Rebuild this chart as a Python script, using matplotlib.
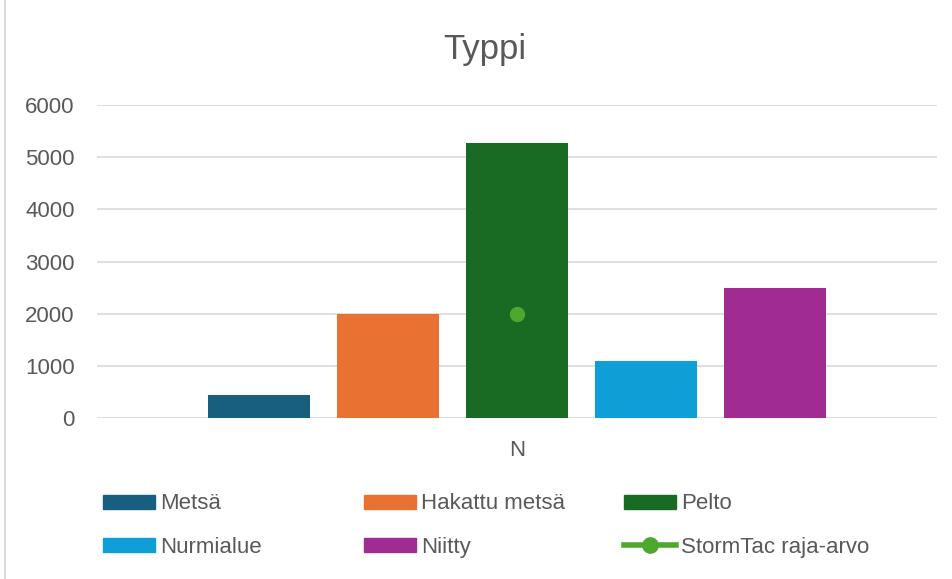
import matplotlib
matplotlib.use("Agg")
import matplotlib.pyplot as plt
from matplotlib.lines import Line2D
from matplotlib.patches import Patch

# Data
categories = ["Metsä", "Hakattu metsä", "Pelto", "Nurmialue", "Niitty"]
values = [440, 2000, 5280, 1100, 2490]
colors = ["#175E7F", "#E97132", "#196B24", "#0F9ED5", "#A02B93"]
limit_label = "StormTac raja-arvo"
limit_value = 2000
group_label = "N"
yticks = [0, 1000, 2000, 3000, 4000, 5000, 6000]

plt.rcParams["font.family"] = ["Liberation Sans", "DejaVu Sans"]
txt = "#595959"
green = "#4EA72E"

W, H = 952, 579
fig = plt.figure(figsize=(W / 100, H / 100), dpi=100)
ax = fig.add_axes([97 / W, 1 - 418 / H, (937 - 97) / W, (418 - 105) / H])

# x in units of one bar slot (129 px)
slots = 840 / 129.0
ax.set_xlim(-slots / 2, slots / 2)
xs = [i - 2 for i in range(len(values))]
for x, v, c in zip(xs, values, colors):
    ax.bar(x, v, width=102 / 129, color=c, zorder=3)

ax.plot([0], [limit_value], marker="o", color=green, markersize=10,
        linestyle="none", zorder=4)

ax.set_ylim(0, 6000)
ax.set_yticks(yticks)
ax.set_yticklabels([str(t) for t in yticks], fontsize=16, color=txt)
ax.tick_params(axis="y", length=0, pad=16)
ax.set_xticks([0])
ax.set_xticklabels([group_label], fontsize=16, color=txt)
ax.tick_params(axis="x", length=0, pad=16)
ax.grid(axis="y", color="#D9D9D9", linewidth=1.2, zorder=0)
for s in ax.spines.values():
    s.set_visible(False)

fig.text(485 / W, 1 - 50 / H, "Typpi", ha="center", va="center",
         fontsize=25, color=txt)

# chart border (left)
fig.add_artist(Line2D([5 / W, 5 / W], [0, 1], color="#D9D9D9", linewidth=1.5))

handles = [Patch(color=c) for c in colors]
handles.append(Line2D([0], [0], color=green, linewidth=4, marker="o",
                      markersize=11))
labels = categories + [limit_label]
columns = [[0, 3], [1, 4], [2, 5]]
col_x = [103, 364, 624]
for cx, idx in zip(col_x, columns):
    leg = fig.legend([handles[i] for i in idx], [labels[i] for i in idx],
                     loc="center left", bbox_to_anchor=(cx / W, 1 - 525.5 / H),
                     frameon=False, fontsize=16, handlelength=2.35,
                     handleheight=0.6, handletextpad=0.22, labelspacing=1.0,
                     borderpad=0, borderaxespad=0)
    for t in leg.get_texts():
        t.set_color(txt)

fig.savefig("out.png", dpi=100)
